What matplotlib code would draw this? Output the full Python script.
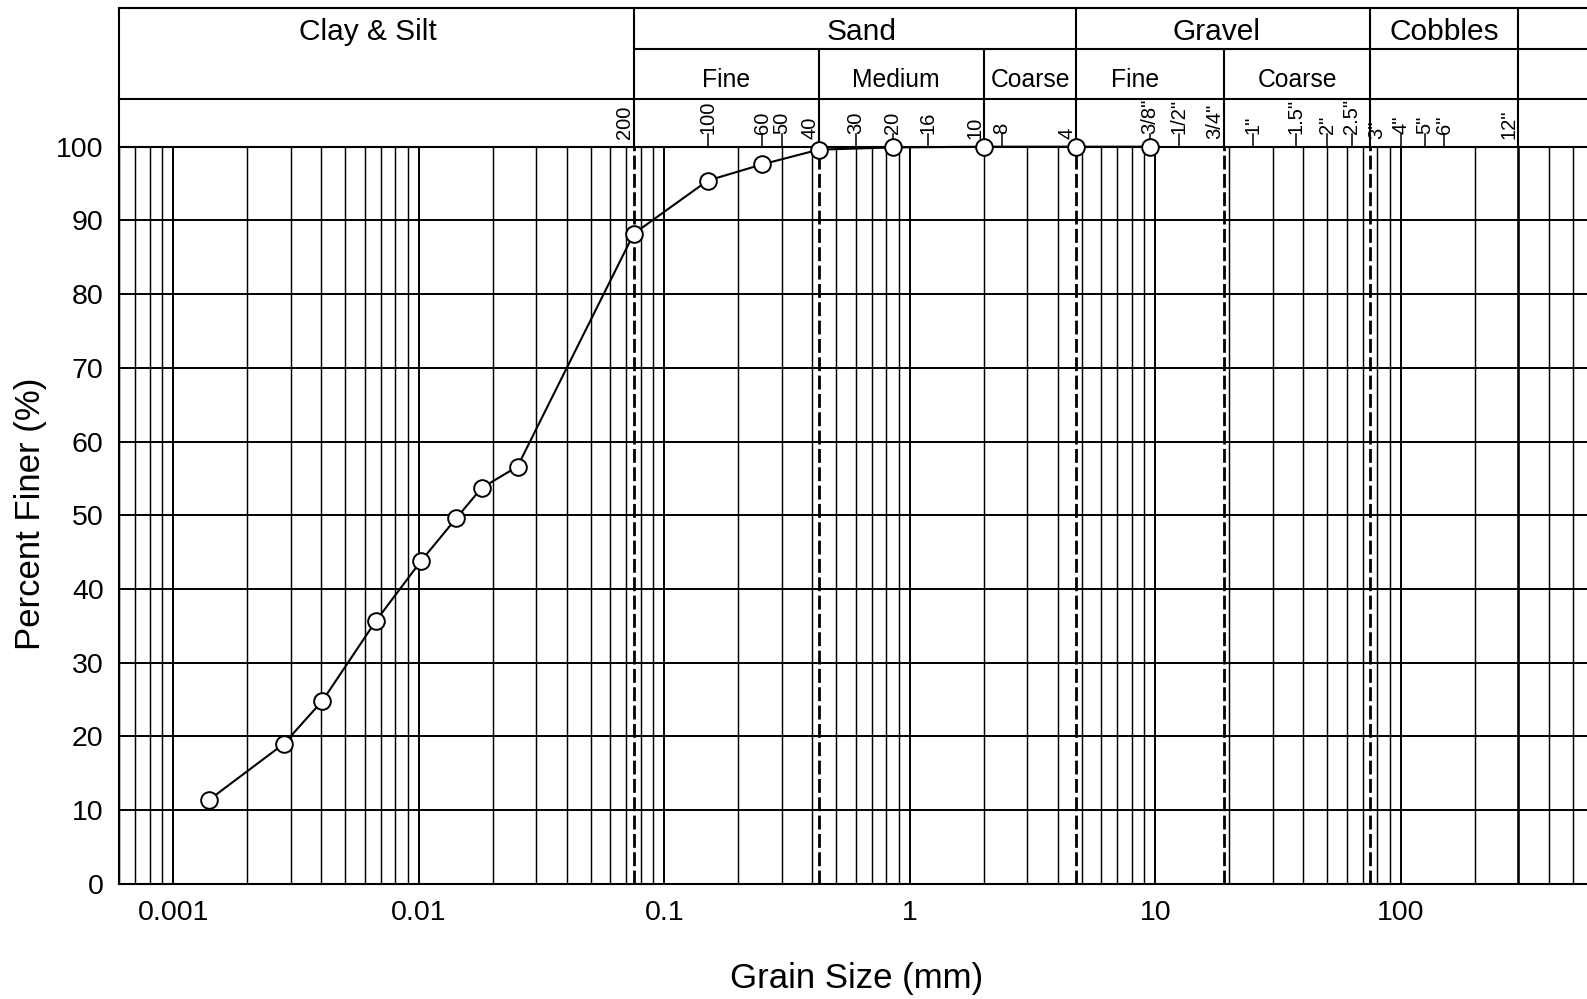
import numpy as np
import matplotlib.pyplot as plt
import matplotlib.transforms as mtransforms
from matplotlib.ticker import LogLocator, NullFormatter, FixedLocator, FuncFormatter

plt.rcParams['font.family'] = ['Liberation Sans', 'DejaVu Sans']

# grain size distribution (hydrometer + sieve)
grain_mm = [0.0014, 0.00282, 0.00404, 0.00666, 0.0102, 0.0142, 0.0180, 0.0252,
            0.075, 0.15, 0.25, 0.425, 0.85, 2.0, 4.75, 9.5]
percent_finer = [11.4, 19.0, 24.8, 35.6, 43.8, 49.6, 53.7, 56.6,
                 88.2, 95.4, 97.6, 99.6, 99.9, 100, 100, 100]

# sieve numbers / openings along the top
sieve_labels = ["200", "100", "60", "50", "40", "30", "20", "16", "10", "8", "4",
                '3/8"', '1/2"', '3/4"', '1"', '1.5"', '2"', '2.5"',
                '3"', '4"', '5"', '6"', '12"']
sieve_mm = [0.075, 0.15, 0.25, 0.3, 0.425, 0.6, 0.85, 1.18, 2.0, 2.36, 4.75,
            9.5, 12.5, 19, 25, 37.5, 50, 63, 75, 100, 125, 150, 300]

# soil classes
groups = ["Clay & Silt", "Sand", "Gravel", "Cobbles"]
group_edges = [0.0006, 0.075, 4.75, 75, 300]
subgroups = ["Fine", "Medium", "Coarse", "Fine", "Coarse"]
subgroup_edges = [0.075, 0.425, 2.0, 4.75, 19, 75]
dashed_mm = [0.075, 0.425, 4.75, 19, 75]

x_ticks = [0.001, 0.01, 0.1, 1, 10, 100]
y_ticks = list(range(0, 101, 10))

W, H = 1587, 999
fig = plt.figure(figsize=(W / 100, H / 100), dpi=100)

# pixel layout of the sheet (it runs past the right edge of the image)
x0, x1 = 119, 1646.5
ytop, ybot = 146.7, 883.7
ax = fig.add_axes([x0 / W, 1 - ybot / H, (x1 - x0) / W, (ybot - ytop) / H])
ax.set_xscale('log')
ax.set_xlim(0.0006, 1000)
ax.set_ylim(0, 100)


def fy(py):
    # pixel row -> axes fraction
    return (ybot - py) / (ybot - ytop)


def shift(dx):
    return mtransforms.ScaledTranslation(dx / 100, 0, fig.dpi_scale_trans)


ax.xaxis.set_major_locator(FixedLocator(x_ticks))
ax.xaxis.set_major_formatter(FuncFormatter(lambda v, p: '%g' % v))
ax.xaxis.set_minor_locator(LogLocator(base=10, subs=np.arange(2, 10), numticks=100))
ax.xaxis.set_minor_formatter(NullFormatter())
ax.set_yticks(y_ticks)

ax.grid(which='minor', axis='x', color='k', lw=1.05)
ax.grid(which='major', axis='x', color='k', lw=1.4)
ax.grid(which='major', axis='y', color='k', lw=1.4)
ax.axvline(0.001, color='k', lw=1.4)
ax.tick_params(which='both', length=0)
ax.tick_params(axis='x', labelsize=20.5, pad=12)
ax.tick_params(axis='y', labelsize=20.5, pad=11)
for s in ax.spines.values():
    s.set_linewidth(1.5)

for b in dashed_mm:
    ax.axvline(b, color='k', lw=2.0, ls=(0, (5, 1.6)))
ax.axvline(300, color='k', lw=1.8)

# header table
trans = ax.get_xaxis_transform()
top, mid, low = fy(8.1), fy(48.6), fy(99.2)
hk = dict(color='k', lw=1.5, transform=trans, clip_on=False)
ax.plot([0.0006, 1000], [top, top], **hk)
ax.plot([0.075, 1000], [mid, mid], **hk)
ax.plot([0.0006, 1000], [low, low], **hk)
for e in group_edges:
    ax.plot([e, e], [1, top], **hk)
for e in [0.425, 2.0, 19]:
    ax.plot([e, e], [1, mid], **hk)

group_dx = [-9, 7, -7, 0]
for name, a, b, dx in zip(groups, group_edges[:-1], group_edges[1:], group_dx):
    xc = 10 ** ((np.log10(a) + np.log10(b)) / 2)
    ax.text(xc, fy(40), name, transform=trans + shift(dx), ha='center',
            va='baseline', fontsize=21.5)
sub_dx = [0, -6, 0, -15, 0]
for name, a, b, dx in zip(subgroups, subgroup_edges[:-1], subgroup_edges[1:], sub_dx):
    xc = 10 ** ((np.log10(a) + np.log10(b)) / 2)
    ax.text(xc, fy(87), name, transform=trans + shift(dx), ha='center',
            va='baseline', fontsize=17.8)

# sieve labels, rotated, with short ticks
on_edge = set(group_edges + subgroup_edges)
for lab, mm in zip(sieve_labels, sieve_mm):
    if mm in on_edge:
        dx = 6 if mm == 75 else -9
        ax.text(mm, fy(ytop - 8), lab, transform=trans + shift(dx), rotation=90,
                ha='center', va='bottom', fontsize=14.5)
    else:
        ax.plot([mm, mm], [1, fy(ytop - 13)], color='k', lw=1.1,
                transform=trans, clip_on=False)
        ax.text(mm, fy(ytop - 13), lab, transform=trans, rotation=90,
                ha='center', va='bottom', fontsize=14.5)

ax.plot(grain_mm, percent_finer, '-o', color='k', lw=1.5, mfc='white', mec='k',
        ms=12, mew=1.4, clip_on=False, zorder=5)

fig.text(857 / W, 11 / H, 'Grain Size (mm)', ha='center', va='baseline', fontsize=25)
fig.text(31 / W, 1 - 514 / H, 'Percent Finer (%)', ha='center', va='center',
         rotation=90, fontsize=25)

fig.savefig('out.png', dpi=100)
